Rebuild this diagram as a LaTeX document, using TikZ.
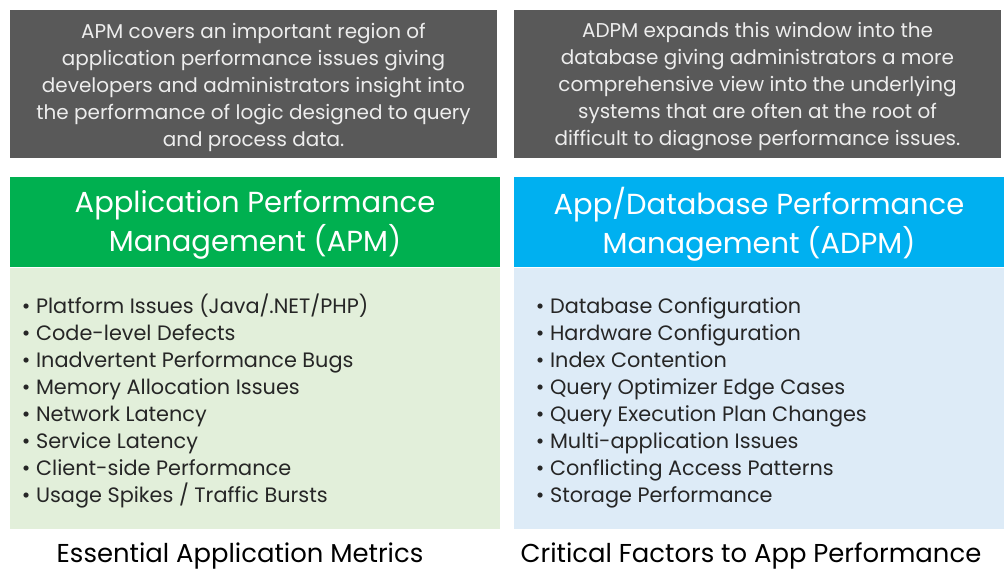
\documentclass[tikz,border=0pt]{standalone}
\usepackage{fontspec}
\setmainfont{Poppins}
\usetikzlibrary{positioning}
\usetikzlibrary{calc}
\definecolor{notegray}{HTML}{595959}
\definecolor{apmgreen}{HTML}{00B050}
\definecolor{apmlight}{HTML}{E2EFDA}
\definecolor{adpmblue}{HTML}{00B0F0}
\definecolor{adpmlight}{HTML}{DDEBF7}
\definecolor{listtext}{HTML}{262626}
\tikzstyle{note} = [rectangle, fill=notegray, text=white!93!black, minimum width=12.175cm, minimum height=3.675cm, align=center, inner sep=0pt, font=\fontsize{14.2}{19.2}\selectfont]
\tikzstyle{head} = [rectangle, minimum width=12.25cm, minimum height=2.25cm, inner sep=0pt]
\tikzstyle{title} = [text=white, align=center, inner sep=0pt, font=\fontsize{20.6}{27.5}\selectfont]
\tikzstyle{body} = [rectangle, minimum width=12.25cm, minimum height=6.525cm, inner sep=0pt]
\tikzstyle{items} = [align=left, inner sep=0pt, text=listtext, font=\fontsize{14.8}{19.2}\selectfont]
\tikzstyle{caption} = [inner sep=0pt, text=black, font=\fontsize{18.4}{23}\selectfont]

\begin{document}
\begin{tikzpicture}[x=0.025cm, y=-0.025cm]
    \useasboundingbox (0,0) rectangle (1008,570);

    % --- APM column ---

    % note above APM
    \node[note] at (253.5, 84) (apm_note) {};
    \node[note, fill=none, minimum width=0pt, minimum height=0pt] at ($(apm_note.center) + (0, 3)$) (apm_note_text)
        {APM covers an important region of\\
         application performance issues giving\\
         developers and administrators insight into\\
         the performance of logic designed to query\\
         and process data.};

    % APM header with its title
    \node[head, fill=apmgreen] at (255, 222) (apm_head) {};
    \node[title] at ($(apm_head.center) + (0, 3)$) (apm_title)
        {Application Performance\\Management (APM)};

    % APM body below header
    \node[body, fill=apmlight, below=0pt of apm_head] (apm_body) {};

    % list of APM issues
    \node[items, anchor=north west] at ($(apm_body.north west) + (12, 26)$) (apm_list)
        {• Platform Issues (Java/.NET/PHP)\\
         • Code-level Defects\\
         • Inadvertent Performance Bugs\\
         • Memory Allocation Issues\\
         • Network Latency\\
         • Service Latency\\
         • Client-side Performance\\
         • Usage Spikes / Traffic Bursts};

    % caption under APM body
    \node[caption, anchor=base] at (240, 562) (apm_caption) {Essential Application Metrics};

    % --- ADPM column ---

    % note above ADPM
    \node[note] at (757.5, 84) (adpm_note) {};
    \node[note, fill=none, minimum width=0pt, minimum height=0pt] at ($(adpm_note.center) + (0, 3)$) (adpm_note_text)
        {ADPM expands this window into the\\
         database giving administrators a more\\
         comprehensive view into the underlying\\
         systems that are often at the root of\\
         difficult to diagnose performance issues.};

    % ADPM header with its title
    \node[head, fill=adpmblue] at (759, 222) (adpm_head) {};
    \node[title] at ($(adpm_head.center) + (0, 2)$) (adpm_title)
        {App/Database Performance\\Management (ADPM)};

    % ADPM body below header
    \node[body, fill=adpmlight, below=0pt of adpm_head] (adpm_body) {};

    % list of ADPM factors
    \node[items, anchor=north west] at ($(adpm_body.north west) + (22, 30)$) (adpm_list)
        {• Database Configuration\\
         • Hardware Configuration\\
         • Index Contention\\
         • Query Optimizer Edge Cases\\
         • Query Execution Plan Changes\\
         • Multi-application Issues\\
         • Conflicting Access Patterns\\
         • Storage Performance};

    % caption under ADPM body
    \node[caption, anchor=base] at (751, 562) (adpm_caption) {Critical Factors to App Performance};

\end{tikzpicture}
\end{document}
